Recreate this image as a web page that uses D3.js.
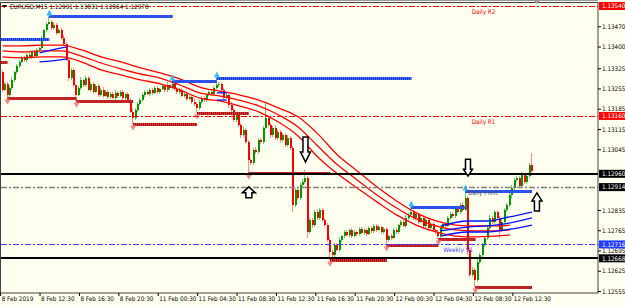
<!DOCTYPE html>
<html>
<head>
<meta charset="utf-8">
<title>EURUSD,M15</title>
<style>
  body { margin: 0; background: #fffff0; }
  svg { display: block; }
</style>
</head>
<body>
<svg></svg>
<script src="https://d3js.org/d3.v7.min.js"></script>
<script>
// prices are kept in points above 1.12000
var base = 1.12, pt = 0.00001;

var symbol = 'EURUSD,M15';
var firstOpen = 1312;
var closes = [
  1250,1271,1233,1257,1284,1312,1333,1347,1361,1354,1371,1364,
  1381,1367,1388,1395,1430,1457,1478,1485,1464,1475,1447,1457,
  1430,1409,1354,1291,1319,1267,1233,1257,1284,1267,1291,1250,
  1271,1243,1264,1233,1250,1229,1243,1226,1236,1222,1240,1229,
  1243,1222,1236,1215,1174,1153,1181,1202,1215,1233,1243,1236,
  1250,1240,1257,1243,1253,1264,1250,1267,1257,1271,1253,1243,
  1250,1229,1236,1219,1226,1208,1202,1188,1208,1222,1215,1233,
  1243,1236,1257,1267,1271,1250,1222,1233,1198,1181,1146,1164,
  1129,1094,1112,1070,1008,998,1043,1036,1077,1070,1119,1153,
  1129,1094,1119,1084,1105,1077,1094,1060,1084,1050,852,904,
  877,922,932,946,759,801,783,828,808,835,801,783,
  732,690,680,714,697,732,745,759,749,766,745,759,
  752,770,756,766,752,773,763,780,766,776,759,770,
  732,745,738,766,759,783,794,780,808,818,828,808,
  821,794,808,780,801,773,787,766,759,745,773,787,
  780,808,821,815,842,828,852,835,877,697,611,628,
  593,656,680,714,738,773,808,794,828,808,766,794,
  835,852,887,911,939,946,918,956,932,953,991,970
];
var hiWick = [
  6,8,5,7,9,4,6,8,5,7,6,9,
  5,6,8,4,7,5,6,21,6,8,5,7,
  6,9,5,8,6,7,5,6,9,5,7,6,
  8,5,6,7,5,9,6,5,7,6,8,5,
  6,7,5,8,6,9,5,7,6,5,8,6,
  7,5,6,8,5,7,6,9,5,10,6,7,
  5,8,6,7,5,6,9,5,7,6,8,5,
  6,7,5,24,6,8,5,7,6,9,5,8,
  6,7,9,5,6,8,7,9,6,8,7,52,
  8,6,7,9,5,8,6,7,9,6,5,8,
  7,6,9,27,5,7,6,8,9,6,7,5,
  6,8,5,7,6,8,5,7,6,5,7,6,
  5,7,6,8,5,6,7,5,6,8,5,7,
  6,5,7,6,8,5,7,6,9,5,18,6,
  7,5,8,6,7,5,6,8,5,7,6,8,
  5,7,6,8,5,7,6,9,22,6,8,10,
  7,9,6,8,7,6,9,5,8,6,7,9,
  6,8,7,9,6,8,7,9,6,8,7,40
];
var loWick = [
  7,5,11,6,8,5,7,6,5,8,6,7,
  6,5,7,8,5,6,7,5,8,6,7,5,
  6,8,5,9,7,6,21,5,7,6,8,5,
  7,6,5,8,6,7,5,6,8,5,7,6,
  5,7,6,8,5,21,6,7,5,6,8,5,
  6,7,5,8,6,5,7,6,8,5,6,7,
  8,5,6,7,5,8,6,18,7,5,6,8,
  5,6,7,5,8,6,7,5,9,6,8,7,
  6,9,7,8,45,7,9,6,8,7,6,5,
  7,9,6,8,7,9,6,8,7,6,24,8,
  9,7,6,8,21,7,9,6,8,7,9,6,
  7,28,6,8,5,7,6,8,5,6,7,5,
  6,7,5,8,6,5,7,6,8,5,7,6,
  18,6,7,5,8,6,7,5,6,8,5,7,
  6,8,5,7,6,8,5,6,7,10,6,8,
  7,5,8,6,7,5,6,8,5,17,8,9,
  24,7,9,6,8,7,6,9,7,6,28,7,
  6,8,7,9,6,8,7,6,8,7,6,6
];

// red moving-average envelope, sampled every 8 bars
var maBars = [0,8,16,24,32,40,48,56,64,72,80,88,96,104,112,120,128,136,144,152,160,168,176,184,192,200,206];
var redTop = [1402,1402,1405,1405,1388,1364,1347,1326,1309,1288,1260,1246,1233,1215,1188,1157,1098,1025,970,915,866,825,797,783,780,780,783];
var redMid = [1385,1381,1385,1385,1367,1343,1323,1305,1291,1267,1240,1229,1215,1195,1164,1122,1056,991,939,887,842,804,780,766,763,763,766];
var redBot = [1364,1361,1364,1364,1347,1319,1302,1285,1271,1250,1222,1212,1195,1174,1139,1091,1018,960,911,863,818,783,759,745,742,745,749];

// blue envelope pieces
var blueBars = [[15,20,26],[87,91],[178,189,197,204,215]];
var blueLines = [
  [[1378,1388,1399],[1347,1350,1357]],
  [[1240,1240],[1215,1215]],
  [[780,797,797,808,828],[763,776,780,787,808],[745,759,759,766,783]]
];

// fractal support / resistance levels
var supFrom = [-3,2,30,53,79,100,133,156,177,192];
var supTo = [2,30,53,79,100,133,156,177,192,215];
var supPrice = [1347,1222,1212,1132,1170,963,662,714,735,569];
var resFrom = [-3,19,69,87,166,188];
var resTo = [19,69,87,166,188,215];
var resPrice = [1426,1506,1281,1291,846,899];

// pivot lines
var pivotNames = ['Daily R2','Daily R1','Daily Pivot','Weekly S1'];
var pivotPrices = [1.13540,1.13160,1.12914,1.12716];
var blackLines = [1.12960,1.12668];

// hand-drawn arrows: bar, tip price, direction (1 = down, -1 = up)
var arrowBars = [123,100,189,217];
var arrowTips = [1.13001,1.12915,1.12952,1.12894];
var arrowDirs = [1,-1,1,-1];

var priceTicks = [1.13470,1.13400,1.13325,1.13255,1.13185,1.13115,1.13045,1.12835,1.12765,1.12695,1.12625,1.12555];
var timeTicks = [-1,15,31,47,63,79,95,111,127,143,159,175,191,207];
var timeLabels = ['8 Feb 2019','8 Feb 12:30','8 Feb 16:30','8 Feb 20:30','11 Feb 00:30','11 Feb 04:30',
  '11 Feb 08:30','11 Feb 12:30','11 Feb 16:30','11 Feb 20:30','12 Feb 00:30','12 Feb 04:30',
  '12 Feb 08:30','12 Feb 12:30'];

var FONT = "'DejaVu Sans Condensed', 'DejaVu Sans', sans-serif";
var W = 625, H = 307;
var plot = { left: 1, top: 2, right: 598, bottom: 293 };

function price(v) { return base + v * pt; }

var svg = d3.select('svg').attr('width', W).attr('height', H).style('background', '#fffff0');

var x = d3.scaleLinear().domain([0, 215]).range([2.6, 532]);
var y = d3.scaleLinear().domain([1.12555, 1.13540]).range([291, 6]);

svg.append('defs').append('clipPath').attr('id', 'plot')
  .append('rect').attr('x', plot.left).attr('y', plot.top)
  .attr('width', plot.right - plot.left).attr('height', plot.bottom - plot.top);

var g = svg.append('g').attr('clip-path', 'url(#plot)');

// candles
var candles = closes.map(function (c, i) {
  var o = i ? closes[i - 1] : firstOpen;
  return { i: i, o: o, c: c, h: Math.max(o, c) + hiWick[i], l: Math.min(o, c) - loWick[i] };
});
var cg = g.append('g').attr('shape-rendering', 'crispEdges');
cg.selectAll('rect.wick').data(candles).join('rect').attr('class', 'wick')
  .attr('x', d => Math.round(x(d.i)) - 1).attr('width', 1)
  .attr('y', d => y(price(d.h))).attr('height', d => y(price(d.l)) - y(price(d.h)))
  .attr('fill', d => d.c >= d.o ? '#6fcf6f' : '#ff8c8c');
cg.selectAll('rect.body').data(candles).join('rect').attr('class', 'body')
  .attr('x', d => Math.round(x(d.i)) - 1).attr('width', 2)
  .attr('y', d => y(price(Math.max(d.o, d.c))))
  .attr('height', d => Math.max(1, y(price(Math.min(d.o, d.c))) - y(price(Math.max(d.o, d.c)))))
  .attr('fill', d => d.c >= d.o ? '#009a00' : '#ff0000');

// envelopes
var line = d3.line().x(d => x(d[0])).y(d => y(price(d[1]))).curve(d3.curveMonotoneX);
[redTop, redMid, redBot].forEach(function (arr) {
  g.append('path').attr('d', line(arr.map((v, k) => [maBars[k], v])))
    .attr('fill', 'none').attr('stroke', '#ff0000').attr('stroke-width', 1.3);
});
blueLines.forEach(function (set, s) {
  set.forEach(function (arr) {
    g.append('path').attr('d', line(arr.map((v, k) => [blueBars[s][k], v])))
      .attr('fill', 'none').attr('stroke', '#0010ff').attr('stroke-width', 1.3);
  });
});

// fractal levels
function levels(from, to, prices, light, dark, marker, up) {
  var lg = g.append('g');
  from.forEach(function (f, k) {
    var yy = Math.round(y(price(prices[k]))) + 0.5;
    var x1 = x(f), x2 = x(to[k]);
    lg.append('line').attr('x1', x1).attr('x2', x2).attr('y1', yy).attr('y2', yy)
      .attr('stroke', light).attr('stroke-width', 3);
    lg.append('line').attr('x1', x1).attr('x2', x2).attr('y1', yy).attr('y2', yy)
      .attr('stroke', dark).attr('stroke-width', 3).attr('stroke-dasharray', '1,1');
    if (f >= 0) {
      var p = up
        ? `M${x1 - 3},${yy - 1}L${x1},${yy - 7}L${x1 + 3},${yy - 1}Z`
        : `M${x1 - 3},${yy + 1}L${x1},${yy + 6}L${x1 + 3},${yy + 1}Z`;
      lg.append('path').attr('d', p).attr('fill', marker);
    }
  });
}
levels(supFrom, supTo, supPrice, '#e04848', '#a00000', '#ff8080', false);
levels(resFrom, resTo, resPrice, '#5a82ff', '#0020d8', '#30c0ff', true);

// pivot and horizontal lines
var pivotColors = ['#ff0000', '#ff0000', '#808080', '#3c3cff'];
var labelBar = [190.5, 190.5, 189, 179];
pivotPrices.forEach(function (p, k) {
  var yy = Math.round(y(p)) + 0.5;
  g.append('line').attr('x1', plot.left).attr('x2', plot.right).attr('y1', yy).attr('y2', yy)
    .attr('stroke', pivotColors[k]).attr('stroke-width', k === 2 ? 1.5 : 1)
    .attr('stroke-dasharray', '6,2,2,2');
  g.append('text').attr('x', x(labelBar[k])).attr('y', yy + 7)
    .attr('font-family', FONT).attr('font-size', 6.3)
    .attr('fill', k === 2 ? '#505050' : pivotColors[k]).text(pivotNames[k]);
});
blackLines.forEach(function (p) {
  var yy = Math.round(y(p));
  g.append('line').attr('x1', plot.left).attr('x2', plot.right).attr('y1', yy).attr('y2', yy)
    .attr('stroke', '#000').attr('stroke-width', 2);
});

// hollow arrows
var arrowStyle = [{ len: 25, hw: 5, sw: 2.5, hh: 10 }, { len: 11, hw: 6.5, sw: 3, hh: 6 },
  { len: 17, hw: 4.5, sw: 2.5, hh: 7 }, { len: 18, hw: 5, sw: 2.5, hh: 8 }];
arrowBars.forEach(function (b, k) {
  var s = arrowStyle[k], d = arrowDirs[k];
  var tx = x(b), ty = y(arrowTips[k]);
  var pts = [[0, 0], [-s.hw, -s.hh], [-s.sw, -s.hh], [-s.sw, -s.len], [s.sw, -s.len], [s.sw, -s.hh], [s.hw, -s.hh]];
  svg.append('path')
    .attr('d', 'M' + pts.map(q => [tx + q[0], ty + q[1] * d].join(',')).join('L') + 'Z')
    .attr('fill', '#fff').attr('stroke', '#000').attr('stroke-width', 1.5)
    .attr('stroke-linejoin', 'miter');
});

// frame
svg.append('line').attr('x1', 0).attr('x2', plot.right).attr('y1', 0.5).attr('y2', 0.5).attr('stroke', '#9a9a9a');
svg.append('rect').attr('x', plot.left - 0.5).attr('y', plot.top + 0.5)
  .attr('width', plot.right - plot.left + 0.5).attr('height', plot.bottom - plot.top - 0.5)
  .attr('fill', 'none').attr('stroke', '#404040');
svg.append('path').attr('d', 'M534,1L540,1L537,4Z').attr('fill', '#9a9a9a');

// price axis
var ya = svg.append('g').attr('transform', `translate(${plot.right},0)`)
  .call(d3.axisRight(y).tickValues(priceTicks).tickSize(3).tickPadding(1).tickFormat(d3.format('.5f')));
ya.select('.domain').remove();
ya.attr('font-family', FONT).attr('font-size', 6.3).style('color', '#000');

var boxPrices = [1.13540, 1.13160, 1.12960, 1.12914, 1.12716, 1.12668];
var boxColors = ['#ff0000', '#ff0000', '#000', '#000', '#1e3cff', '#000'];
boxPrices.forEach(function (p, k) {
  var yy = y(p);
  svg.append('rect').attr('x', plot.right + 1).attr('y', yy - 4).attr('width', W - plot.right - 1).attr('height', 8)
    .attr('fill', boxColors[k]);
  svg.append('text').attr('x', plot.right + 4).attr('y', yy).attr('dy', '0.35em')
    .attr('font-family', FONT).attr('font-size', 6.3).attr('fill', '#fff').text(p.toFixed(5));
});

// time axis
var xa = svg.append('g').attr('transform', `translate(0,${plot.bottom})`)
  .call(d3.axisBottom(x).tickValues(timeTicks).tickSize(3).tickPadding(1).tickFormat((d, i) => timeLabels[i]));
xa.select('.domain').remove();
xa.attr('font-family', FONT).attr('font-size', 6.3).style('color', '#000');
xa.selectAll('text').attr('text-anchor', 'start').attr('x', 1);

// header
var last = candles[candles.length - 1];
svg.append('path').attr('d', 'M2,5L7,5L4.5,8Z').attr('fill', '#000');
svg.append('text').attr('x', 10).attr('y', 9).attr('font-family', FONT).attr('font-size', 6.3)
  .text(symbol + ' ' + [last.o, last.h, last.l, last.c].map(v => price(v).toFixed(5)).join(' '));
</script>
</body>
</html>
